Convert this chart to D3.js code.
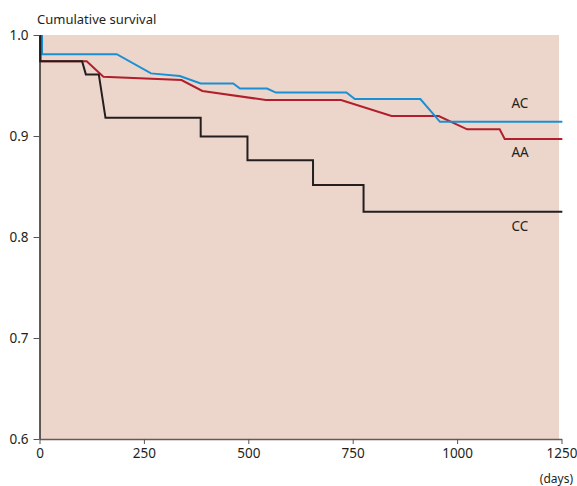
<!DOCTYPE html>
<html>
<head>
<meta charset="utf-8">
<script src="https://cdn.jsdelivr.net/npm/d3@7"></script>
<style>
  html, body { margin: 0; padding: 0; background: #fff; }
  svg { display: block; }
  text { font-family: "Noto Sans", "Open Sans", sans-serif; fill: #231f20; }
</style>
</head>
<body>
<svg id="chart" width="577" height="486"></svg>
<script>
// ---- data (days, cumulative survival) ----
const seriesNames = ["AC", "AA", "CC"];
const acDays = [6, 6, 185, 267, 336, 386, 464, 480, 545, 566, 735, 755, 912, 959, 1252];
const acSurv = [1.0, 0.981, 0.981, 0.962, 0.9594, 0.952, 0.952, 0.947, 0.947, 0.943, 0.943, 0.9366, 0.9366, 0.914, 0.914];
const aaDays = [2, 2, 113, 153, 340, 390, 542, 722, 843, 956, 1024, 1102, 1114, 1252];
const aaSurv = [1.0, 0.974, 0.974, 0.9587, 0.9554, 0.9446, 0.9356, 0.9356, 0.9198, 0.9198, 0.9066, 0.9066, 0.897, 0.897];
const ccDays = [2, 2, 102, 111, 142, 158, 386, 386, 498, 498, 655, 655, 776, 776, 1252];
const ccSurv = [1.0, 0.974, 0.974, 0.961, 0.961, 0.918, 0.918, 0.8995, 0.8995, 0.876, 0.876, 0.8515, 0.8515, 0.825, 0.825];
const xTicks = [0, 250, 500, 750, 1000, 1250];
const yTicks = [0.6, 0.7, 0.8, 0.9, 1.0];
const yTitle = "Cumulative survival";
const xTitle = "(days)";

const svg = d3.select("#chart");
const x = d3.scaleLinear().domain([0, 1250]).range([39.5, 561.5]);
const y = d3.scaleLinear().domain([0.6, 1.0]).range([439, 35]);

// background panel
svg.append("rect")
  .attr("x", x(0)).attr("y", y(1.0))
  .attr("width", x(1244) - x(0)).attr("height", y(0.6) - y(1.0))
  .attr("fill", "#ecd5ca");

// lines
const series = [
  {name: "AC", days: acDays, surv: acSurv, color: "#1a90d4"},
  {name: "AA", days: aaDays, surv: aaSurv, color: "#b01f2b"},
  {name: "CC", days: ccDays, surv: ccSurv, color: "#231f20"}
];
const line = d3.line().x(d => x(d[0])).y(d => y(d[1]));
// draw order: red, blue, black on top
[series[1], series[0], series[2]].forEach(s => {
  svg.append("path")
    .datum(s.days.map((d, i) => [d, s.surv[i]]))
    .attr("d", line)
    .attr("fill", "none")
    .attr("stroke", s.color)
    .attr("stroke-width", 2)
    .attr("stroke-linejoin", "miter");
});

// axes
const yAxis = d3.axisLeft(y).tickValues(yTicks).tickFormat(d3.format(".1f")).tickSize(6).tickSizeOuter(0).tickPadding(5);
const gy = svg.append("g").attr("transform", `translate(${x(0)},0)`).call(yAxis);
gy.select(".domain").attr("stroke", "#231f20").attr("stroke-width", 1.4);
gy.selectAll(".tick line").attr("stroke", "#555");
gy.selectAll(".tick text").attr("font-size", 13.5).attr("fill", "#231f20");

const xAxis = d3.axisBottom(x).tickValues(xTicks).tickFormat(d3.format("d")).tickSize(5).tickSizeOuter(0).tickPadding(4);
const gx = svg.append("g").attr("transform", `translate(0,${y(0.6)})`).call(xAxis);
gx.select(".domain").attr("stroke", "#6a5853").attr("stroke-width", 1.4);
gx.selectAll(".tick line").attr("stroke", "#555");
gx.selectAll(".tick text").attr("font-size", 13.5).attr("fill", "#231f20");

// titles
svg.append("text").attr("x", 37).attr("y", 24).attr("font-size", 13).text(yTitle);
svg.append("text").attr("x", 573).attr("y", 483).attr("text-anchor", "end").attr("font-size", 12).text(xTitle);

// series labels (label centre positions in survival units)
const labelPos = {AC: 0.932, AA: 0.884, CC: 0.811};
series.forEach(s => {
  svg.append("text")
    .attr("x", x(1130)).attr("y", y(labelPos[s.name]))
    .attr("dy", "0.35em")
    .attr("font-size", 13.5)
    .text(s.name);
});
</script>
</body>
</html>
